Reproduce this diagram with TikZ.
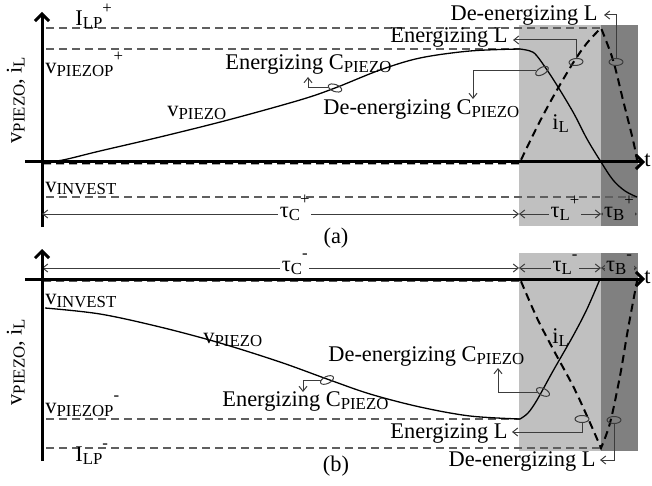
\documentclass[tikz,border=0pt]{standalone}
\usepackage{fontspec}
\setmainfont{Liberation Serif}
\usetikzlibrary{arrows.meta,shapes.geometric}

\definecolor{lightg}{RGB}{192,192,192}
\definecolor{darkg}{RGB}{128,128,128}
\definecolor{levelgray}{RGB}{95,95,95}
\definecolor{markgray}{RGB}{60,60,60}

% small-caps style subscript / superscript used in all labels
\newcommand\sbs[1]{\raisebox{-1.5pt}{\fontsize{8.4}{9}\selectfont #1}}
\newcommand\sps[1]{\smash{\raisebox{6.3pt}{\fontsize{8.4}{9}\selectfont #1}}}

\tikzset{
  lbl/.style={inner sep=0pt, anchor=base west},
  axisline/.style={line width=1.5pt, -{Straight Barb[length=3.5pt,width=7pt]}},
  level/.style={draw=levelgray, line width=0.55pt, dash pattern=on 4pt off 2.5pt},
  vcurve/.style={line width=0.65pt},
  icurve/.style={line width=1pt, dash pattern=on 4pt off 2.5pt},
  marker/.style={draw=markgray, ellipse, line width=0.5pt, minimum width=7pt,
                 minimum height=3.5pt, inner sep=0pt},
  callout/.style={draw=markgray, line width=0.5pt, -{Straight Barb[length=2.5pt,width=4pt]}},
  dimline/.style={draw=markgray, line width=0.5pt,
     {Straight Barb[length=2.5pt,width=4pt]}-{Straight Barb[length=2.5pt,width=4pt]}},
  dimlbl/.style={inner sep=0.8pt},
}

\begin{document}
\begin{tikzpicture}[x=0.5pt, y=-0.5pt, font=\fontsize{11.2}{13}\selectfont]
\useasboundingbox (0,0) rectangle (652,486);

% ===================== (a) positive half cycle =====================
\fill[lightg] (519,25) rectangle (601,226);
\fill[darkg]  (601,25) rectangle (638,226);

\draw[level] (46,28)  -- (601,28);
\draw[level] (46,49)  -- (520,49);
\draw[level] (46,197) -- (637,197);

% piezo voltage
\draw[vcurve] plot[smooth, tension=0.55] coordinates {
  (45,162) (63,160) (100,151) (160,137) (228,120) (300,100) (335,88)
  (380,70) (420,58) (470,51) (520,49)}
  -- plot[smooth, tension=0.55] coordinates {
  (520,49) (530,51) (537,56) (553,79) (573,112) (587,139) (601,162)
  (613,180) (625,191) (637,197)};

% inductor current
\draw[icurve] (43,163.5) -- (520,163.5)
  -- plot[smooth, tension=0.55] coordinates {
  (520,162) (537,127) (553,97) (573,63) (587,43) (601,28)}
  -- plot[smooth, tension=0.55] coordinates {
  (601,28) (613,60) (623,100) (633,140) (637,160)};

% axes
\coordinate (yA0) at (42,227);
\coordinate (yA1) at (42,12);
\coordinate (tA0) at (25,162);
\coordinate (tA1) at (645,162);
\draw[axisline] (yA0) -- (yA1);
\draw[axisline] (tA0) -- (tA1);
\node[anchor=west, inner sep=0pt] (tA) at (644,160) {t};

% time intervals
\coordinate (dA0) at (42,214);
\coordinate (dA1) at (519,214);
\coordinate (dA2) at (601,214);
\coordinate (dA3) at (637,214);
\draw[dimline] (dA0) -- node[pos=0.53, dimlbl, fill=white] (tauCa) {τ\sbs{C}\sps{+}} (dA1);
\draw[dimline] (dA1) -- node[pos=0.56, dimlbl, fill=lightg] (tauLa) {τ\sbs{L}\sps{+}} (dA2);
\draw[dimline] (dA2) -- node[pos=0.5, dimlbl, fill=darkg] (tauBa) {τ\sbs{B}\sps{+}} (dA3);

% labels
\node[rotate=90] (ylA) at (16,100) {v\sbs{PIEZO}, i\sbs{L}};
\node[lbl] (ilpA)  at (75,26)   {I\sbs{LP}\sps{+}};
\node[lbl] (vpopA) at (45,74)   {v\sbs{PIEZOP}\sps{+}};
\node[lbl] (vpA)   at (167,117) {v\sbs{PIEZO}};
\node[lbl] (vinvA) at (45,192)  {v\sbs{INVEST}};
\node[lbl] (tECa)  at (225,70)  {Energizing C\sbs{PIEZO}};
\node[lbl] (tDCa)  at (323,115) {De-energizing C\sbs{PIEZO}};
\node[lbl, anchor=base east] (tELa) at (508,43) {Energizing L};
\node[lbl, anchor=base east] (tDLa) at (598,21) {De-energizing L};
\node[lbl] (iLa)   at (552,130) {i\sbs{L}};
\node (capA) at (336,238) {(a)};

% curve markers and callouts
\node[marker, rotate=-20] (mECa) at (335,88) {};
\node[marker, rotate=30]  (mDCa) at (542,71) {};
\node[marker, rotate=5]   (mELa) at (576,62) {};
\node[marker]             (mDLa) at (616,62) {};
\coordinate (aECa) at (308,77);
\coordinate (aDCa) at (473,99);
\coordinate (aELa) at (513,40);
\coordinate (aDLa) at (604,15);
\draw[callout] (mECa) -| (aECa);
\draw[callout] (mDCa) -| (aDCa);
\draw[callout] (mELa) |- (aELa);
\draw[callout] (mDLa) |- (aDLa);

% ===================== (b) negative half cycle =====================
\fill[lightg] (519,253) rectangle (601,451);
\fill[darkg]  (601,253) rectangle (638,451);

\draw[level] (46,419) -- (520,419);
\draw[level] (46,448) -- (601,448);

% piezo voltage
\draw[vcurve] plot[smooth, tension=0.55] coordinates {
  (45,308) (100,314) (160,327) (220,343) (280,362) (327,379) (370,394)
  (420,407) (470,416) (520,419)}
  -- plot[smooth, tension=0.55] coordinates {
  (520,419) (528,413) (537,400) (553,371) (573,336) (587,309) (600,279)};

% inductor current
\draw[icurve] (43,280.5) -- (520,280.5)
  -- plot[smooth, tension=0.55] coordinates {
  (520,279) (537,318) (553,349) (573,386) (587,416) (601,448)}
  -- plot[smooth, tension=0.55] coordinates {
  (601,448) (610,423) (620,376) (628,329) (637,281)};

% time intervals
\coordinate (dB0) at (42,268);
\coordinate (dB1) at (519,268);
\coordinate (dB2) at (601,268);
\coordinate (dB3) at (637,268);
\draw[dimline] (dB0) -- node[pos=0.53, dimlbl, fill=white] (tauCb) {τ\sbs{C}\sps{-}} (dB1);
\draw[dimline] (dB1) -- node[pos=0.56, dimlbl, fill=lightg] (tauLb) {τ\sbs{L}\sps{-}} (dB2);
\draw[dimline] (dB2) -- node[pos=0.5, dimlbl, fill=darkg] (tauBb) {τ\sbs{B}\sps{-}} (dB3);

% axes
\coordinate (yB0) at (42,461);
\coordinate (yB1) at (42,249);
\coordinate (tB0) at (25,279);
\coordinate (tB1) at (645,279);
\draw[axisline] (yB0) -- (yB1);
\draw[axisline] (tB0) -- (tB1);
\node[anchor=west, inner sep=0pt] (tB) at (644,277) {t};

% labels
\node[rotate=90] (ylB) at (16,362) {v\sbs{PIEZO}, i\sbs{L}};
\node[lbl] (vinvB) at (45,304)  {v\sbs{INVEST}};
\node[lbl] (vpB)   at (203,343) {v\sbs{PIEZO}};
\node[lbl] (tECb)  at (222,406) {Energizing C\sbs{PIEZO}};
\node[lbl] (vpopB) at (45,413)  {v\sbs{PIEZOP}\sps{-}};
\node[lbl] (ilpB)  at (75,461)  {I\sbs{LP}\sps{-}};
\node[lbl] (tDCb)  at (328,361) {De-energizing C\sbs{PIEZO}};
\node[lbl] (iLb)   at (552,343) {i\sbs{L}};
\node[lbl, anchor=base east] (tELb) at (508,438) {Energizing L};
\node[lbl, anchor=base east] (tDLb) at (596,466) {De-energizing L};
\node (capB) at (336,466) {(b)};

% curve markers and callouts
\node[marker, rotate=25]  (mECb) at (327,380) {};
\node[marker, rotate=-25] (mDCb) at (543,392) {};
\node[marker]             (mELb) at (582,419) {};
\node[marker]             (mDLb) at (614,420) {};
\coordinate (aECb) at (303,392);
\coordinate (aDCb) at (498,368);
\coordinate (aELb) at (512,432);
\coordinate (aDLb) at (600,460);
\draw[callout] (mECb) -| (aECb);
\draw[callout] (mDCb) -| (aDCb);
\draw[callout] (mELb) |- (aELb);
\draw[callout] (mDLb) |- (aDLb);
\end{tikzpicture}
\end{document}
